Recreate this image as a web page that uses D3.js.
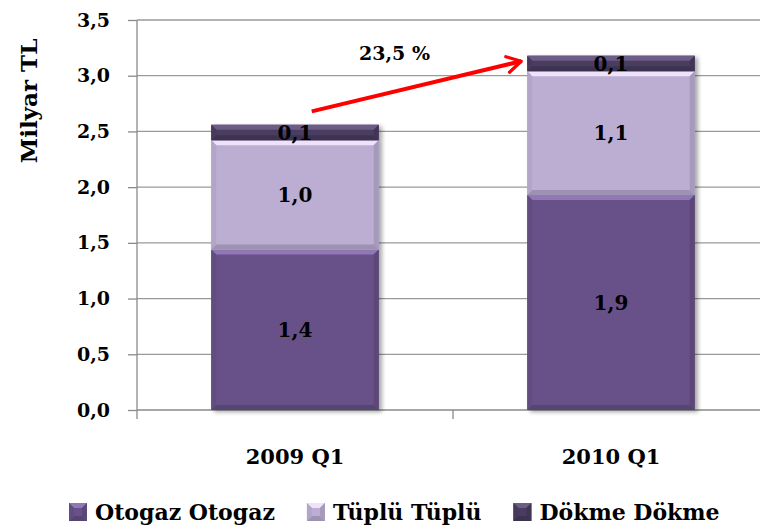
<!DOCTYPE html>
<html>
<head>
<meta charset="utf-8">
<script src="https://cdn.jsdelivr.net/npm/d3@7"></script>
<style>
  body { margin: 0; background: #fff; }
  svg text { font-family: "DejaVu Serif", serif; font-weight: bold; fill: #000; }
</style>
</head>
<body>
<div id="chart"></div>
<script>
// values (milyar TL)
var categories = ['2009 Q1', '2010 Q1']
var otogaz = [1.44, 1.93]
var tuplu = [0.98, 1.11]
var dokme = [0.14, 0.14]
var seriesNames = ['Otogaz Otogaz', 'Tüplü Tüplü', 'Dökme Dökme']
var yTicks = [0, 0.5, 1, 1.5, 2, 2.5, 3, 3.5]
var growthLabel = '23,5 %'

var colors = ['#675188', '#bcaed3', '#4a3c61']
var tops = ['#8f78b5', '#efe3fb', '#6d5b88']

var width = 760, height = 527
var m = {left: 137, top: 20, right: -9, bottom: 117}

var svg = d3.select('#chart').append('svg')
  .attr('width', width).attr('height', height)

var defs = svg.append('defs')
var shadow = defs.append('filter').attr('id', 'shadow')
  .attr('x', '-10%').attr('y', '-10%').attr('width', '130%').attr('height', '130%')
shadow.append('feDropShadow').attr('dx', 3).attr('dy', 2).attr('stdDeviation', 2)
  .attr('flood-color', '#000').attr('flood-opacity', 0.35)

defs.append('marker').attr('id', 'head')
  .attr('viewBox', '0 0 10 10').attr('refX', 8).attr('refY', 5)
  .attr('markerWidth', 5).attr('markerHeight', 5).attr('orient', 'auto')
  .attr('markerUnits', 'strokeWidth')
  .append('path').attr('d', 'M1,1 L8,5 L1,9')
  .attr('fill', 'none').attr('stroke', '#ff0000').attr('stroke-width', 1.6)
  .attr('stroke-linecap', 'round').attr('stroke-linejoin', 'round')

var x = d3.scaleBand().domain(categories)
  .range([m.left, width - m.right])
  .paddingInner(0.47).paddingOuter(0.235)
var y = d3.scaleLinear().domain([0, 3.5]).range([height - m.bottom, m.top])

// gridlines
svg.append('g').selectAll('line').data(yTicks.slice(1)).join('line')
  .attr('x1', m.left).attr('x2', width - m.right)
  .attr('y1', d => y(d)).attr('y2', d => y(d))
  .attr('stroke', '#9a9a9a').attr('stroke-width', 1.3)

// y axis
var yAxis = svg.append('g').attr('transform', `translate(${m.left},0)`)
  .call(d3.axisLeft(y).tickValues(yTicks).tickSize(9).tickPadding(18)
    .tickFormat(d => d3.format('.1f')(d).replace('.', ',')))
yAxis.select('.domain').remove()
yAxis.append('line').attr('y1', y(3.5)).attr('y2', y(0) + 9).attr('stroke', '#8a8a8a').attr('stroke-width', 1.3)
yAxis.selectAll('.tick line').attr('stroke', '#8a8a8a').attr('stroke-width', 1.3)
yAxis.selectAll('.tick text').style('font-size', '19px').attr('fill', '#000')

// x axis
var xAxis = svg.append('g')
xAxis.append('line').attr('x1', m.left).attr('x2', width - m.right)
  .attr('y1', y(0)).attr('y2', y(0)).attr('stroke', '#8a8a8a').attr('stroke-width', 1.3)
var step = x.step()
xAxis.selectAll('line.tk').data(categories).join('line').attr('class', 'tk')
  .attr('x1', d => x(d) + x.bandwidth() / 2 + step / 2)
  .attr('x2', d => x(d) + x.bandwidth() / 2 + step / 2)
  .attr('y1', y(0)).attr('y2', y(0) + 9)
  .attr('stroke', '#8a8a8a').attr('stroke-width', 1.3)
xAxis.selectAll('text').data(categories).join('text')
  .attr('x', d => x(d) + x.bandwidth() / 2).attr('y', y(0) + 54)
  .attr('text-anchor', 'middle').style('font-size', '21px').text(d => d)

// axis title
svg.append('text').attr('transform', `translate(37,101) rotate(-90)`)
  .attr('text-anchor', 'middle').style('font-size', '23px').text('Milyar TL')

// stacked bars
var rows = categories.map((c, i) => ({cat: c, Otogaz: otogaz[i], Tuplu: tuplu[i], Dokme: dokme[i]}))
var stack = d3.stack().keys(['Otogaz', 'Tuplu', 'Dokme'])(rows)

function bevelBar(g, bx, by, bw, bh, i) {
  var b = Math.min(5, bh / 3)
  g.append('rect').attr('x', bx).attr('y', by).attr('width', bw).attr('height', bh).attr('fill', colors[i])
  g.append('path').attr('d', `M${bx},${by}L${bx + bw},${by}L${bx + bw - b},${by + b}L${bx + b},${by + b}Z`).attr('fill', tops[i])
  g.append('path').attr('d', `M${bx + bw},${by}L${bx + bw},${by + bh}L${bx + bw - b},${by + bh - b}L${bx + bw - b},${by + b}Z`)
    .attr('fill', d3.color(colors[i]).darker(0.35))
  g.append('path').attr('d', `M${bx},${by + bh}L${bx + bw},${by + bh}L${bx + bw - b},${by + bh - b}L${bx + b},${by + bh - b}Z`)
    .attr('fill', d3.color(colors[i]).darker(0.5))
  g.append('path').attr('d', `M${bx},${by}L${bx + b},${by + b}L${bx + b},${by + bh - b}L${bx},${by + bh}Z`)
    .attr('fill', d3.color(colors[i]).darker(0.15))
}

var barsG = svg.append('g').attr('filter', 'url(#shadow)')
stack.forEach(function(layer, i) {
  layer.forEach(function(d) {
    var g = barsG.append('g')
    bevelBar(g, x(d.data.cat), y(d[1]), x.bandwidth(), y(d[0]) - y(d[1]), i)
  })
})

// value labels
stack.forEach(function(layer) {
  svg.append('g').selectAll('text').data(layer).join('text')
    .attr('x', d => x(d.data.cat) + x.bandwidth() / 2)
    .attr('y', d => (y(d[0]) + y(d[1])) / 2)
    .attr('dy', '0.36em').attr('text-anchor', 'middle').style('font-size', '20px')
    .text(d => d3.format('.1f')(d[1] - d[0]).replace('.', ','))
})

// growth arrow
var total = rows.map(r => r.Otogaz + r.Tuplu + r.Dokme)
var ax1 = x(categories[0]) + x.bandwidth() * 0.6, ay1 = y(total[0] + 0.12)
var ax2 = x(categories[1]) - 6, ay2 = y(total[1] - 0.05)
svg.append('line').attr('x1', ax1).attr('y1', ay1).attr('x2', ax2).attr('y2', ay2)
  .attr('stroke', '#ff0000').attr('stroke-width', 4).attr('marker-end', 'url(#head)')
svg.append('text').attr('x', (ax1 + ax2) / 2 - 22).attr('y', y(total[1] - 0.04))
  .attr('text-anchor', 'middle').style('font-size', '19px').text(growthLabel)

// legend
var lg = svg.append('g')
var lx = 69
seriesNames.forEach(function(name, i) {
  var g = lg.append('g')
  bevelBar(g, lx, 503, 18, 18, i)
  var t = g.append('text').attr('x', lx + 26).attr('y', 520).style('font-size', '22px').text(name)
  lx += 26 + t.node().getComputedTextLength() + 32
})
</script>
</body>
</html>
